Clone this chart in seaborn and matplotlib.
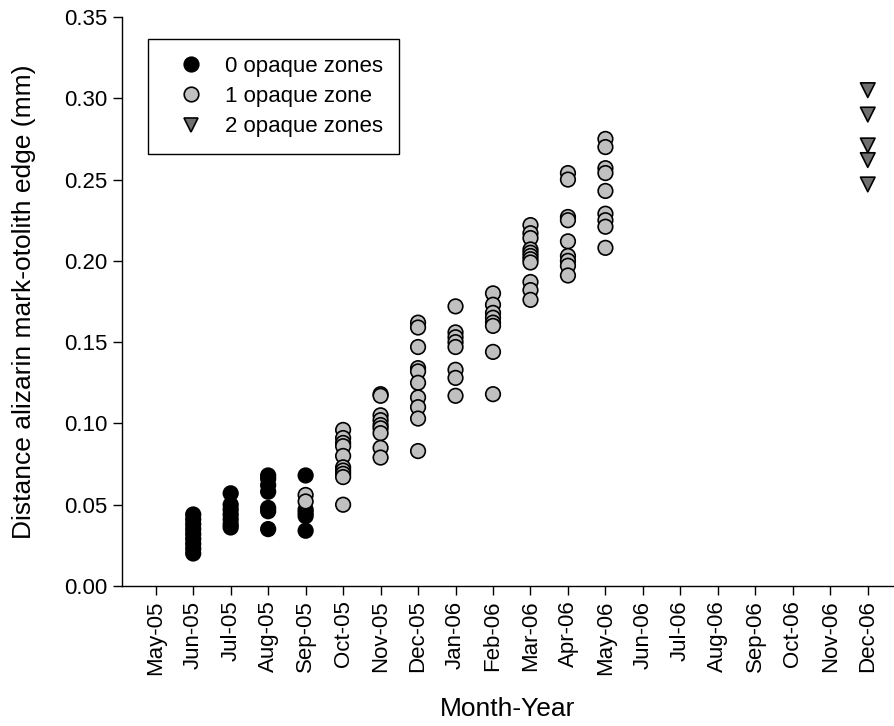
import numpy as np
import pandas as pd
import matplotlib
matplotlib.use("Agg")
import matplotlib.pyplot as plt
import seaborn as sns

# Month axis, May 2005 to December 2006
months = ["May-05", "Jun-05", "Jul-05", "Aug-05", "Sep-05", "Oct-05", "Nov-05",
          "Dec-05", "Jan-06", "Feb-06", "Mar-06", "Apr-06", "May-06", "Jun-06",
          "Jul-06", "Aug-06", "Sep-06", "Oct-06", "Nov-06", "Dec-06"]

# Distance from alizarin mark to otolith edge (mm), per sample month
zone0 = {
    "Jun-05": [0.044, 0.041, 0.038, 0.035, 0.032, 0.029, 0.026, 0.023, 0.020],
    "Jul-05": [0.057, 0.050, 0.047, 0.044, 0.041, 0.038, 0.036],
    "Aug-05": [0.068, 0.066, 0.062, 0.058, 0.048, 0.046, 0.035],
    "Sep-05": [0.068, 0.047, 0.045, 0.043, 0.034],
}
zone1 = {
    "Sep-05": [0.056, 0.052],
    "Oct-05": [0.096, 0.091, 0.088, 0.086, 0.080, 0.073, 0.071, 0.069, 0.067, 0.050],
    "Nov-05": [0.118, 0.117, 0.105, 0.102, 0.099, 0.097, 0.094, 0.085, 0.079],
    "Dec-05": [0.162, 0.159, 0.147, 0.134, 0.132, 0.125, 0.116, 0.110, 0.103, 0.083],
    "Jan-06": [0.172, 0.156, 0.153, 0.150, 0.147, 0.133, 0.128, 0.117],
    "Feb-06": [0.180, 0.173, 0.168, 0.165, 0.162, 0.160, 0.144, 0.118],
    "Mar-06": [0.222, 0.217, 0.214, 0.207, 0.205, 0.203, 0.201, 0.199, 0.187, 0.182, 0.176],
    "Apr-06": [0.254, 0.250, 0.227, 0.225, 0.212, 0.203, 0.200, 0.197, 0.191],
    "May-06": [0.275, 0.270, 0.257, 0.254, 0.243, 0.229, 0.225, 0.221, 0.208],
}
zone2 = {
    "Dec-06": [0.305, 0.290, 0.271, 0.262, 0.247],
}

group_labels = ["0 opaque zones", "1 opaque zone", "2 opaque zones"]
yticks = [0.00, 0.05, 0.10, 0.15, 0.20, 0.25, 0.30, 0.35]

rows = []
for label, group in zip(group_labels, [zone0, zone1, zone2]):
    for month, vals in group.items():
        for v in vals:
            rows.append({"month": months.index(month), "dist": v, "zones": label})
df = pd.DataFrame(rows)

sns.set_theme(style="ticks", rc={
    "text.color": "black", "axes.labelcolor": "black",
    "xtick.color": "black", "ytick.color": "black", "axes.edgecolor": "black",
})
plt.rcParams["font.family"] = ["Liberation Sans", "DejaVu Sans"]

fig = plt.figure(figsize=(8.95, 7.26), dpi=100)
ax = fig.add_axes([122 / 895, 140 / 726, (894 - 122) / 895, (586 - 17) / 726])

sns.scatterplot(
    data=df, x="month", y="dist", hue="zones", style="zones",
    hue_order=group_labels, style_order=group_labels,
    palette={"0 opaque zones": "#000000", "1 opaque zone": "#c0c0c0",
             "2 opaque zones": "#707070"},
    markers={"0 opaque zones": "o", "1 opaque zone": "o", "2 opaque zones": "v"},
    s=110, edgecolor="black", linewidth=1.2, ax=ax, zorder=3,
)

ax.set_xlim(-0.9, 19.7)
ax.set_ylim(0, 0.35)
ax.set_xticks(range(len(months)))
ax.set_xticklabels(months, rotation=90, fontsize=16)
ax.set_yticks(yticks)
ax.set_yticklabels([f"{t:.2f}" for t in yticks], fontsize=16)
ax.tick_params(direction="out", length=6.5, width=1.0, color="black",
               labelcolor="black", pad=4)

for side in ["top", "right"]:
    ax.spines[side].set_visible(False)
for side in ["left", "bottom"]:
    ax.spines[side].set_linewidth(1.0)
    ax.spines[side].set_color("black")

ax.set_xlabel("Month-Year", fontsize=19, labelpad=16, color="black")
ax.set_ylabel("Distance alizarin mark-otolith edge (mm)", fontsize=19,
              labelpad=20, color="black")

sns.move_legend(
    ax, "upper left", bbox_to_anchor=(26 / 772, (586 - 39) / 569), title=None,
    frameon=True, fancybox=False, fontsize=16, borderaxespad=0,
    borderpad=0.75, labelspacing=0.42, handlelength=2.4, handletextpad=0.3,
)
leg = ax.get_legend()
leg.get_frame().set_edgecolor("black")
leg.get_frame().set_linewidth(1.0)
leg.get_frame().set_alpha(1)
for t in leg.get_texts():
    t.set_color("black")

fig.savefig("out.png", dpi=100)
